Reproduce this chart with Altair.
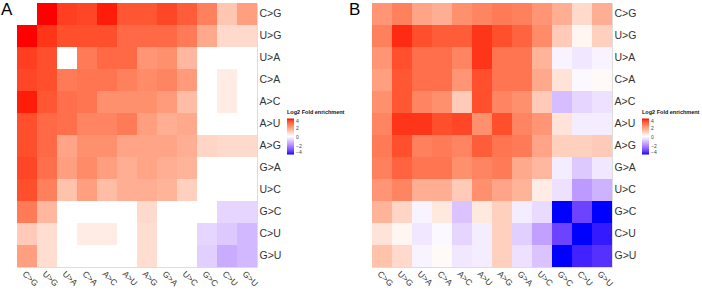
import altair as alt
import pandas as pd

# Substitution classes, in the order used for both rows and columns
mutations = ["C>G", "U>G", "U>A", "C>A", "A>C", "A>U",
             "A>G", "G>A", "U>C", "G>C", "C>U", "G>U"]

# Log2 fold enrichment, one list per row (row mutation), columns follow `mutations`
panel_a = [
    [0.0, 4.0, 3.6, 3.5, 3.9, 3.3, 3.3, 3.5, 3.2, 2.6, 1.2, 2.0],
    [4.0, 3.7, 3.4, 3.4, 3.4, 3.0, 3.0, 3.0, 2.7, 1.8, 0.8, 0.8],
    [3.6, 3.4, 0.0, 2.7, 3.0, 3.0, 2.2, 2.3, 1.5, 0.0, 0.0, 0.0],
    [3.5, 3.4, 2.7, 2.8, 2.8, 2.6, 2.4, 2.5, 2.1, 0.0, 0.4, 0.0],
    [3.9, 3.3, 2.9, 2.8, 2.3, 2.3, 2.3, 2.1, 1.4, 0.0, 0.4, 0.0],
    [3.4, 3.0, 2.9, 2.5, 2.5, 2.7, 2.0, 1.7, 1.8, 0.0, 0.0, 0.0],
    [3.4, 3.0, 1.9, 2.3, 2.3, 1.9, 1.9, 1.9, 1.7, 0.9, 0.8, 0.8],
    [3.5, 2.9, 2.0, 2.4, 2.0, 1.7, 1.9, 1.7, 1.6, 0.0, 0.0, 0.0],
    [3.4, 2.6, 1.3, 2.0, 1.4, 1.7, 1.7, 1.6, 1.0, 0.0, 0.0, 0.0],
    [2.7, 1.5, 0.0, 0.0, 0.0, 0.0, 0.8, 0.0, 0.0, 0.0, -0.7, -0.7],
    [1.1, 0.7, 0.0, 0.4, 0.4, 0.0, 0.7, 0.0, 0.0, -0.7, -0.9, -1.2],
    [2.0, 0.7, 0.0, 0.0, 0.0, 0.0, 0.7, 0.0, 0.0, -0.8, -1.4, -1.2],
]

panel_b = [
    [2.2, 2.6, 1.9, 1.7, 2.3, 2.5, 2.7, 2.6, 2.2, 1.7, 0.8, 1.7],
    [2.6, 3.8, 3.4, 3.2, 3.2, 3.7, 3.4, 3.1, 2.4, 1.1, 0.2, 1.0],
    [2.2, 3.4, 2.9, 2.9, 2.5, 3.7, 2.8, 2.8, 1.6, -0.2, -0.4, -0.2],
    [2.0, 3.3, 2.9, 2.9, 2.2, 3.4, 2.8, 2.8, 1.8, 0.6, -0.1, 0.1],
    [2.3, 3.3, 2.5, 2.3, 1.1, 3.4, 2.5, 2.3, 1.1, -1.1, -0.7, -0.5],
    [2.5, 3.7, 3.7, 3.4, 3.5, 2.3, 3.4, 2.5, 2.2, 0.6, -0.3, -0.3],
    [2.7, 3.4, 2.6, 2.7, 2.5, 3.2, 2.8, 2.7, 1.9, 1.0, 1.0, 1.1],
    [2.6, 3.1, 2.8, 2.8, 2.3, 2.5, 2.7, 1.8, 1.5, -0.3, -0.9, -0.4],
    [2.2, 2.5, 1.7, 1.7, 1.1, 2.3, 1.9, 1.6, 0.4, -0.5, -1.7, -1.3],
    [1.6, 0.9, -0.2, 0.5, -1.0, 0.5, 1.0, -0.3, -0.6, -4.0, -3.2, -4.0],
    [0.6, 0.2, -0.4, -0.1, -0.7, -0.3, 1.0, -0.8, -1.6, -3.2, -4.0, -3.8],
    [1.3, 0.8, -0.2, 0.1, -0.4, -0.3, 1.0, -0.5, -1.0, -4.0, -3.7, -3.5],
]

legend_ticks = [4, 2, 0, -2, -4]
FONT = "Liberation Sans"
TEXT = "#333333"


def long_table(matrix):
    rows = []
    for i, src in enumerate(mutations):
        for j, dst in enumerate(mutations):
            rows.append({"row": src, "col": dst, "value": matrix[i][j]})
    return pd.DataFrame(rows)


def panel(matrix, letter, letter_x):
    color = alt.Color(
        "value:Q",
        scale=alt.Scale(domain=[-4, 0, 4], range=["#0000FF", "#FFFFFF", "#FF0000"],
                        interpolate="lab", clamp=True),
        legend=alt.Legend(
            title="Log2 Fold enrichment", orient="none", legendX=270, legendY=107,
            direction="vertical", values=legend_ticks,
            gradientLength=36, gradientThickness=7, gradientStrokeWidth=0,
            titleFont=FONT, titleFontSize=5.5, titleFontWeight="bold", titleColor="#111",
            titlePadding=3, labelFont=FONT, labelFontSize=5, labelColor="#444",
            labelOffset=2, tickCount=5,
        ),
    )
    heat = alt.Chart(long_table(matrix)).mark_rect().encode(
        x=alt.X("col:N", sort=mutations, title=None,
                axis=alt.Axis(orient="bottom", labelAngle=45, labelAlign="left",
                              labelBaseline="top", labelPadding=2, ticks=False,
                              domain=False, labelFont=FONT, labelFontSize=8.5,
                              labelColor=TEXT)),
        y=alt.Y("row:N", sort=mutations, title=None,
                axis=alt.Axis(orient="right", ticks=False, domain=False, labelPadding=2,
                              labelFont=FONT, labelFontSize=10.5, labelColor=TEXT)),
        color=color,
    )
    tag = alt.Chart(pd.DataFrame({"tag": [letter]})).mark_text(
        align="left", baseline="top", font=FONT, fontSize=17, color="#000"
    ).encode(text="tag:N", x=alt.value(letter_x), y=alt.value(-1))
    return alt.layer(heat, tag).properties(width=240, height=264)


chart = alt.hconcat(
    panel(panel_a, "A", -16),
    panel(panel_b, "B", -23),
    spacing=115,
    bounds="flush",
).resolve_scale(color="independent").properties(
    padding={"left": 0, "top": 0, "right": 0, "bottom": 0}
).configure_view(stroke=None).configure(background="white")

chart.save("out.html", embed_options={"renderer": "svg", "actions": False})
